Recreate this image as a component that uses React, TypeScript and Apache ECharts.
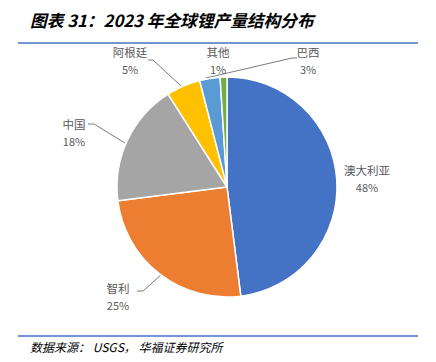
import React, { useEffect, useRef } from "react";
import * as echarts from "echarts";

const categories = ["澳大利亚", "智利", "中国", "阿根廷", "巴西", "其他"];
const values = [48, 25, 18, 5, 3, 1];
const colors = ["#4472C4", "#ED7D31", "#A5A5A5", "#FFC000", "#5B9BD5", "#70AD47"];
const titleText = "图表 31：2023 年全球锂产量结构分布";
const sourceText = "数据来源： USGS， 华福证券研究所";

// label placement (layout only): centre of label block and leader line points
const labelPos: [number, number][] = [
  [367, 178],
  [118, 296],
  [74, 132],
  [130, 60],
  [308, 60],
  [218, 60],
];
const labelLines: ([number, number][] | null)[] = [
  null,
  [[162, 274], [143, 291], [137, 291]],
  [[125, 143], [94, 124], [88, 124]],
  [[181, 86], [153, 60], [148, 60]],
  [[206, 78], [292, 58], [297, 58]],
  null,
];

export default function App() {
  const ref = useRef<HTMLDivElement>(null);
  useEffect(() => {
    document.body.style.margin = "0";
    const chart = echarts.init(ref.current!, null, { renderer: "svg" });
    chart.setOption({
      animation: false,
      backgroundColor: "#ffffff",
      graphic: [
        {
          type: "text",
          left: 30,
          top: 12,
          style: {
            text: titleText,
            font: "italic bold 16.7px 'Noto Sans CJK SC', sans-serif",
            fill: "#000000",
          },
        },
        {
          type: "line",
          shape: { x1: 18, y1: 43, x2: 418, y2: 43 },
          style: { stroke: "#4472C4", lineWidth: 1.5 },
        },
        {
          type: "line",
          shape: { x1: 18, y1: 336, x2: 418, y2: 336 },
          style: { stroke: "#4472C4", lineWidth: 1.5 },
        },
        {
          type: "text",
          left: 30,
          top: 340,
          style: {
            text: sourceText,
            font: "italic 12px 'Noto Sans CJK SC', sans-serif",
            fill: "#000000",
          },
        },
      ],
      series: [
        {
          type: "pie",
          center: [227, 187],
          radius: 110,
          startAngle: 90,
          clockwise: true,
          data: categories.map((name, i) => ({
            name,
            value: values[i],
            itemStyle: { color: colors[i] },
            labelLine: { show: labelLines[i] !== null },
          })),
          itemStyle: { borderColor: "#ffffff", borderWidth: 1.5 },
          label: {
            formatter: "{n|{b}}\n{p|{c}%}",
            color: "#595959",
            fontFamily: "'Noto Sans CJK SC', sans-serif",
            align: "center",
            overflow: "none",
            width: 80,
            rich: {
              n: { fontSize: 11.5, lineHeight: 17, color: "#595959", align: "center" },
              p: { fontSize: 11, lineHeight: 16, color: "#595959", align: "center" },
            },
          },
          labelLine: {
            lineStyle: { color: "#595959", width: 0.8 },
          },
          labelLayout: (params: any) => {
            const i = params.dataIndex;
            const out: any = {
              x: labelPos[i][0],
              y: labelPos[i][1],
              align: "center",
              verticalAlign: "middle",
            };
            if (labelLines[i]) out.labelLinePoints = labelLines[i];
            return out;
          },
        },
      ],
    });
    return () => chart.dispose();
  }, []);
  return <div ref={ref} style={{ width: 436, height: 362 }} />;
}
